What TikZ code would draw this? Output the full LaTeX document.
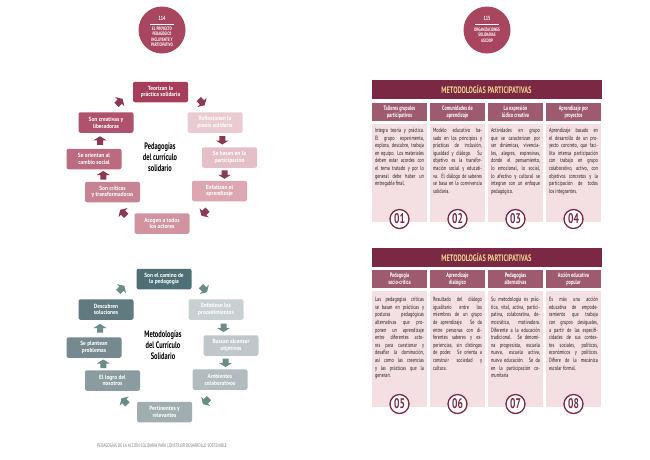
\documentclass[tikz,border=0pt]{standalone}
\usepackage{fontspec}
\setmainfont{PT Sans}[FakeStretch=0.9]
\newfontfamily\cnd{PT Sans}[FakeStretch=0.68]
\newfontfamily\bodyfont{PT Sans}[FakeStretch=0.7]
\usetikzlibrary{calc}

\definecolor{roseA}{HTML}{A63E5B}
\definecolor{roseB}{HTML}{EACBD1}
\definecolor{roseC}{HTML}{E5BFC7}
\definecolor{roseD}{HTML}{DCA7B2}
\definecolor{roseE}{HTML}{D293A1}
\definecolor{roseF}{HTML}{C78294}
\definecolor{roseG}{HTML}{BB6A80}
\definecolor{roseH}{HTML}{B0526D}
\definecolor{rosearrow}{HTML}{8A3A52}
\definecolor{tealA}{HTML}{4D6F75}
\definecolor{tealB}{HTML}{C9D0D3}
\definecolor{tealC}{HTML}{BFC7CA}
\definecolor{tealD}{HTML}{B1BCC0}
\definecolor{tealE}{HTML}{A0AEB2}
\definecolor{tealF}{HTML}{8B9CA1}
\definecolor{tealG}{HTML}{76898F}
\definecolor{tealH}{HTML}{607A80}
\definecolor{tealarrow}{HTML}{6C8C8A}
\definecolor{maroon}{HTML}{7A2843}
\definecolor{gold}{HTML}{F3D58E}
\definecolor{mauve}{HTML}{9E5A6E}
\definecolor{blush}{HTML}{F4DFE3}
\definecolor{pagecirc}{HTML}{A9465F}
\definecolor{footgrey}{HTML}{7A7A7A}

\begin{document}
\begin{tikzpicture}[x=1pt,y=-1pt,
  cyc/.style={fill=#1, rounded corners=2pt, minimum width=55pt, minimum height=20.5pt,
    inner sep=0pt, align=center, text=white, font=\bfseries\fontsize{6}{6.8}\selectfont},
  hub/.style={align=center, font=\cnd\bfseries\fontsize{9.4}{10.8}\selectfont},
  barrow/.pic={\path[pic actions] (-4,-3) -- (0.5,-3) -- (0.5,-6.5) -- (4.5,0)
     -- (0.5,6.5) -- (0.5,3) -- (-4,3) -- cycle;},
  pagebadge/.style={circle, fill=pagecirc, minimum size=47pt, inner sep=0pt},
  badgetext/.style={text=white, align=center, font=\cnd\bfseries\fontsize{4.9}{5.5}\selectfont},
  titlebar/.style={fill=maroon, minimum width=230pt, minimum height=19pt, inner sep=0pt,
    text=gold, font=\cnd\bfseries\fontsize{9.4}{9.4}\selectfont},
  colhead/.style={fill=mauve, minimum width=55pt, minimum height=18pt, inner sep=0pt,
    align=center, text=white, font=\cnd\bfseries\fontsize{6.4}{6.9}\selectfont},
  colbody/.style={fill=blush, minimum width=55pt, inner sep=0pt},
  coltext/.style={anchor=north, text width=49pt, inner sep=0pt, align=justify,
    text=black!88, font=\bodyfont\fontsize{6.1}{7.6}\selectfont},
  numdisc/.style={circle, draw=maroon, line width=1.3pt, fill=white, minimum size=19pt,
    inner sep=0pt, text=maroon, font=\cnd\bfseries\fontsize{14}{14}\selectfont}
]
\useasboundingbox (0,0) rectangle (650,459);
\fill[white] (0,0) rectangle (650,459);

% ---------- left page badge ----------
\node[pagebadge] (lbadge) at (162,30) {};
\node[badgetext, font=\cnd\bfseries\fontsize{6}{6}\selectfont] (lnum) at (162,18.5) {114};
\draw[white, line width=0.4pt] ($(lbadge.center)+(-12,-6)$) -- ($(lbadge.center)+(12,-6)$);
\node[badgetext] (ltxt) at (162,37) {EL PROYECTO\\PEDAGÓGICO\\INCLUYENTE Y\\PARTICIPATIVO};

% ---------- cycle: pedagogías ----------
\node[cyc=roseA] (p1) at (160.5,92)  {Teorizan la\\práctica solidaria};
\node[cyc=roseB] (p2) at (215,122.5) {Reflexionan la\\praxis solidaria};
\node[cyc=roseC] (p3) at (229.5,157.5) {Se basan en la\\participación};
\node[cyc=roseD] (p4) at (219.5,191) {Enfatizan el\\aprendizaje};
\node[cyc=roseE] (p5) at (162,223.5) {Acogen a todos\\los actores};
\node[cyc=roseF] (p6) at (112.5,192) {Son críticas\\y transformadoras};
\node[cyc=roseG] (p7) at (94,159)    {Se orientan al\\cambio social};
\node[cyc=roseH] (p8) at (106,122.5) {Son creativas y\\liberadoras};
\node[hub] (phub) at (160,157) {Pedagogías\\del currículo\\solidario};

\pic[fill=rosearrow, rotate=-45]  at ($(p1.east)!0.5!(p2.north)$) {barrow};
\pic[fill=rosearrow, rotate=-90]  at ($(p2.south)!0.5!(p3.north)$) {barrow};
\pic[fill=rosearrow, rotate=-90]  at ($(p3.south)!0.5!(p4.north)$) {barrow};
\pic[fill=rosearrow, rotate=-135] at ($(p4.south)!0.5!(p5.east)$) {barrow};
\pic[fill=rosearrow, rotate=135]  at ($(p5.west)!0.5!(p6.south)$) {barrow};
\pic[fill=rosearrow, rotate=90]   at ($(p6.north)!0.5!(p7.south)$) {barrow};
\pic[fill=rosearrow, rotate=90]   at ($(p7.north)!0.5!(p8.south)$) {barrow};
\pic[fill=rosearrow, rotate=45]   at ($(p8.north)!0.5!(p1.west)$) {barrow};

% ---------- cycle: metodologías ----------
\node[cyc=tealA] (m1) at (164,279)   {Son el camino de\\la pedagogía};
\node[cyc=tealB] (m2) at (216,309.5) {Enfatizan los\\procedimientos};
\node[cyc=tealC] (m3) at (231,345.5) {Buscan alcanzar\\objetivos};
\node[cyc=tealD] (m4) at (220,379.5) {Ambientes\\colaborativos};
\node[cyc=tealE] (m5) at (164.5,412) {Pertinentes y\\relevantes};
\node[cyc=tealF] (m6) at (112.5,380.5) {El logro del\\nosotros};
\node[cyc=tealG] (m7) at (94,347.5)  {Se plantean\\problemas};
\node[cyc=tealH] (m8) at (106,309.5) {Descubren\\soluciones};
\node[hub] (mhub) at (163,345) {Metodologías\\del Currículo\\Solidario};

\pic[fill=tealarrow, rotate=-45]  at ($(m1.east)!0.5!(m2.north)$) {barrow};
\pic[fill=tealarrow, rotate=-90]  at ($(m2.south)!0.5!(m3.north)$) {barrow};
\pic[fill=tealarrow, rotate=-90]  at ($(m3.south)!0.5!(m4.north)$) {barrow};
\pic[fill=tealarrow, rotate=-135] at ($(m4.south)!0.5!(m5.east)$) {barrow};
\pic[fill=tealarrow, rotate=135]  at ($(m5.west)!0.5!(m6.south)$) {barrow};
\pic[fill=tealarrow, rotate=90]   at ($(m6.north)!0.5!(m7.south)$) {barrow};
\pic[fill=tealarrow, rotate=90]   at ($(m7.north)!0.5!(m8.south)$) {barrow};
\pic[fill=tealarrow, rotate=45]   at ($(m8.north)!0.5!(m1.west)$) {barrow};

% footer
\node[text=footgrey, font=\cnd\fontsize{5.2}{6}\selectfont] (footer) at (162,445)
  {PEDAGOGÍAS DE LA ACCIÓN SOLIDARIA PARA CONSTRUIR DESARROLLO SOSTENIBLE};

% ---------- right page badge ----------
\node[pagebadge] (rbadge) at (487,30) {};
\node[badgetext, font=\cnd\bfseries\fontsize{6}{6}\selectfont] (rnum) at (487,18.5) {115};
\draw[white, line width=0.4pt] ($(rbadge.center)+(-12,-6)$) -- ($(rbadge.center)+(12,-6)$);
\node[badgetext] (rtxt) at (487,35) {ORGANIZACIONES\\SOLIDARIAS\\ASCOOP};

% ---------- table 1 ----------
\node[titlebar] (bar1) at (486.5,89.5) {METODOLOGÍAS PARTICIPATIVAS};
\foreach \cx/\k in {399.5/a,457.5/b,515.5/c,573.5/d}{
  \node[colbody, minimum height=98pt] (body1\k) at (\cx,173) {};
}
\node[colhead] (h1a) at (399.5,112) {Talleres grupales\\participativos};
\node[colhead] (h1b) at (457.5,112) {Comunidades de\\aprendizaje};
\node[colhead] (h1c) at (515.5,112) {La expresión\\lúdico creativa};
\node[colhead] (h1d) at (573.5,112) {Aprendizaje por\\proyectos};

\node[coltext] (t1a) at (399.5,128) {Integra teoría y práctica.\linebreak
El grupo experimenta,\linebreak explora, descubre, trabaja\linebreak
en equipo. Los materiales\linebreak deben estar acordes con\linebreak
el tema tratado y por lo\linebreak general debe haber un\linebreak entregable final.};
\node[coltext] (t1b) at (457.5,128) {Modelo educativo ba-\linebreak
sado en los principios y\linebreak prácticas de inclusión,\linebreak
igualdad y diálogo. Su\linebreak objetivo es la transfor-\linebreak
mación social y educati-\linebreak va. El diálogo de saberes\linebreak
se basa en la convivencia\linebreak solidaria.};
\node[coltext] (t1c) at (515.5,128) {Actividades en grupo\linebreak
que se caracterizan por\linebreak ser dinámicas, vivencia-\linebreak
les, alegres, expresivas,\linebreak donde el pensamiento,\linebreak
lo emocional, lo social,\linebreak lo afectivo y cultural se\linebreak
integran con un enfoque\linebreak pedagógico.};
\node[coltext] (t1d) at (573.5,128) {Aprendizaje basado en\linebreak
el desarrollo de un pro-\linebreak yecto concreto, que faci-\linebreak
lita intensa participación\linebreak con trabajo en grupo\linebreak
colaborativo, activo, con\linebreak objetivos concretos y la\linebreak
participación de todos\linebreak los integrantes.};

\node[numdisc] (n01) at (399.5,219) {01};
\node[numdisc] (n02) at (457.5,219) {02};
\node[numdisc] (n03) at (515.5,219) {03};
\node[numdisc] (n04) at (573.5,219) {04};

% ---------- table 2 ----------
\node[titlebar] (bar2) at (486.5,257.5) {METODOLOGÍAS PARTICIPATIVAS};
\foreach \cx/\k in {399.5/a,457.5/b,515.5/c,573.5/d}{
  \node[colbody, minimum height=116pt] (body2\k) at (\cx,349) {};
}
\node[colhead] (h2a) at (399.5,279) {Pedagogía\\socio-crítica};
\node[colhead] (h2b) at (457.5,279) {Aprendizaje\\dialógico};
\node[colhead] (h2c) at (515.5,279) {Pedagogías\\alternativas};
\node[colhead] (h2d) at (573.5,279) {Acción educativa\\popular};

\node[coltext] (t2a) at (399.5,297) {Las pedagogías críticas\linebreak
se basan en prácticas y\linebreak posturas pedagógicas\linebreak
alternativas que pro-\linebreak ponen un aprendizaje\linebreak
entre diferentes acto-\linebreak res para cuestionar y\linebreak
desafiar la dominación,\linebreak así como las creencias\linebreak
y las prácticas que la\linebreak generan.};
\node[coltext] (t2b) at (457.5,297) {Resultado del diálogo\linebreak
igualitario entre los\linebreak miembros de un grupo\linebreak
de aprendizaje. Se da\linebreak entre personas con di-\linebreak
ferentes saberes y ex-\linebreak periencias, sin distingos\linebreak
de poder. Se orienta a\linebreak construir sociedad y\linebreak cultura.};
\node[coltext] (t2c) at (515.5,297) {Su metodología es prác-\linebreak
tica, vital, activa, partici-\linebreak pativa, colaborativa, de-\linebreak
mocrática, motivadora.\linebreak Diferente a la educación\linebreak
tradicional. Se denomi-\linebreak na progresista, escuela\linebreak
nueva, escuela activa,\linebreak nueva educación. Se da\linebreak
en la participación co-\linebreak munitaria};
\node[coltext] (t2d) at (573.5,297) {Es más una acción\linebreak
educativa de empode-\linebreak ramiento que trabaja\linebreak
con grupos desiguales,\linebreak a partir de las especifi-\linebreak
cidades de sus contex-\linebreak tes sociales, políticos,\linebreak
económicos y políticos.\linebreak Difiere de la mecánica\linebreak escolar formal.};

\node[numdisc] (n05) at (399.5,404) {05};
\node[numdisc] (n06) at (457.5,404) {06};
\node[numdisc] (n07) at (515.5,404) {07};
\node[numdisc] (n08) at (573.5,404) {08};
\end{tikzpicture}
\end{document}
